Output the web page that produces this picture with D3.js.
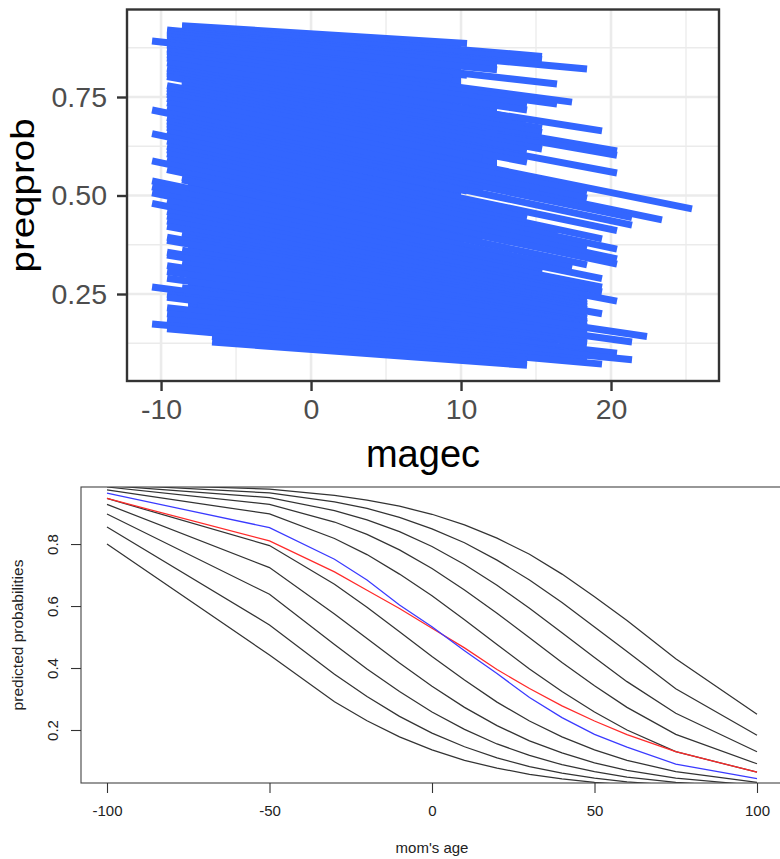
<!DOCTYPE html>
<meta charset="utf-8">
<style type="text/css">
  body { margin: 0; background: #fff; }
  svg { display: block; font-family: "Liberation Sans", Arial, sans-serif; }
  .grid line { stroke: #ebebeb; }
  .axis path { display: none; }
  .top-axis line { stroke: #333; stroke-width: 2.4px; }
  .top-axis text { fill: #4d4d4d; font-size: 28.5px; font-family: "Liberation Sans", Arial, sans-serif; }
  .bot-axis line { stroke: #333; stroke-width: 1.1px; }
  .bot-axis text { fill: #222; font-size: 15px; font-family: "Liberation Sans", Arial, sans-serif; }
</style>
<body></body>
<script src="https://d3js.org/d3.v7.min.js"></script>
<script>

// top chart: one thick stripe per fitted line
var stripeFrom = [-8.6,-8.6,-8.6,-9.6,-9.6,-9.6,-9.6,-9.6,-10.6,-9.6,-9.6,-9.6,-9.6,-9.6,-9.6,-9.6,-9.6,-9.6,-9.6,
  -8.6,-8.6,-9.6,-9.6,-9.6,-9.6,-9.6,-9.6,-9.6,-10.6,-9.6,-9.6,-9.6,-9.6,-9.6,-10.6,-9.6,-9.6,-9.6,-9.6,
  -9.6,-10.6,-9.6,-8.6,-8.6,-10.6,-10.6,-10.6,-9.6,-10.6,-9.6,-9.6,-9.6,-9.6,-8.6,-8.6,-9.6,-9.6,-8.6,
  -9.6,-9.6,-8.6,-9.6,-9.6,-9.6,-8.6,-10.6,-9.6,-9.6,-7.6,-9.6,-9.6,-9.6,-10.6,-9.6,-6.6,-6.6];
var stripeTo = [10.4,15.4,15.4,18.4,12.4,12.4,12.4,16.4,10.4,9.4,17.4,16.4,14.4,14.4,19.4,15.4,15.4,20.4,20.4,
  15.4,15.4,14.4,20.4,14.4,14.4,11.4,25.4,18.4,18.4,23.4,21.4,11.4,21.4,10.4,20.4,14.4,19.4,16.4,20.4,
  18.4,20.4,20.4,11.4,18.4,17.4,19.4,15.4,19.4,19.4,18.4,20.4,18.4,18.4,18.4,18.4,19.4,18.4,18.4,
  18.4,18.4,18.4,22.4,18.4,21.4,18.4,18.4,16.4,16.4,20.4,18.4,21.4,18.4,19.4,14.4,14.4,14.4];
var probFrom = [.931,.928,.923,.920,.915,.910,.903,.895,.892,.882,.872,.866,.857,.849,.837,.823,.816,.810,.802,
  .790,.781,.779,.772,.764,.757,.746,.735,.723,.717,.698,.689,.681,.673,.662,.657,.638,.625,.616,.606,
  .593,.588,.566,.546,.540,.537,.522,.507,.487,.480,.459,.448,.435,.422,.404,.395,.394,.386,.361,
  .356,.349,.328,.322,.307,.290,.266,.268,.249,.242,.219,.215,.200,.185,.174,.162,.142,.128];
var probTo = [.886,.853,.845,.821,.839,.831,.819,.783,.805,.799,.737,.732,.731,.717,.664,.671,.660,.613,.602,
  .630,.618,.615,.557,.595,.585,.595,.466,.508,.493,.438,.444,.516,.425,.511,.411,.444,.390,.405,.364,
  .367,.339,.326,.383,.324,.316,.289,.304,.267,.255,.252,.232,.234,.225,.218,.211,.200,.200,.188,
  .180,.175,.167,.142,.150,.128,.129,.123,.123,.119,.100,.098,.083,.083,.072,.081,.076,.069];

// where the stripes overlap solid inside the mass
var massFrom = [-8.2, 10, 10, 12.4];
var massTo = [10, 18.3, 12.4, 14.3];
var massTopFrom = [.925, .311, .778, .7145];
var massTopTo = [.884, .2195, .7627, .6992];
var massBottomFrom = [.151, .0825, .5343, .6104];
var massBottomTo = [.0775, .141, .519, .5977];

var magecMajor = [-10, 0, 10, 20];
var magecMinor = [-5, 5, 15, 25];
var probMajor = [0.25, 0.5, 0.75];
var probMinor = [0.125, 0.375, 0.625, 0.875];

// bottom chart
var ageNodes = [-100,-50,-30,-20,-10,0,10,20,30,40,50,60,75,100];
var line1 = [.800,.442,.291,.230,.178,.136,.102,.077,.057,.042,.031,.023,.014,.006];
var line2 = [.855,.539,.380,.308,.244,.190,.146,.110,.082,.061,.045,.033,.021,.009];
var line3 = [.897,.638,.476,.397,.324,.258,.202,.155,.118,.088,.066,.048,.031,.014];
var line4 = [.928,.724,.574,.495,.416,.341,.273,.214,.165,.126,.094,.070,.045,.021];
var line5 = [.947,.795,.670,.596,.517,.437,.361,.290,.229,.178,.136,.102,.066,.031];
var line6 = [.975,.897,.818,.766,.703,.633,.556,.476,.397,.324,.258,.200,.130,.064];
var line7 = [.984,.928,.871,.831,.781,.721,.652,.577,.498,.418,.343,.273,.186,.091];
var line8 = [.989,.950,.908,.878,.840,.792,.734,.667,.593,.514,.434,.356,.254,.130];
var line9 = [.993,.965,.936,.915,.886,.849,.804,.748,.684,.611,.532,.453,.333,.183];
var line10 = [.995,.977,.957,.942,.922,.896,.862,.819,.767,.703,.630,.553,.430,.251];
var redLine = [.947,.810,.710,.651,.592,.528,.465,.395,.334,.278,.229,.185,.130,.064];
var blueLine = [.964,.853,.751,.684,.603,.533,.456,.382,.305,.240,.186,.145,.090,.043];
var blackLines = [line1, line2, line3, line4, line5, line6, line7, line8, line9, line10];

var ageTicks = [-100, -50, 0, 50, 100];
var predTicks = [0.2, 0.4, 0.6, 0.8];

var svg = d3.select("body").append("svg")
    .attr("width", 780)
    .attr("height", 859);

// ---- top panel ----
var xTop = d3.scaleLinear().domain([-12.27, 27.2]).range([127, 719]);
var yTop = d3.scaleLinear().domain([0.0292, 0.9721]).range([381, 9.5]);

var grid = svg.append("g").attr("class", "grid");

grid.selectAll(".vmin").data(magecMinor).enter().append("line")
    .attr("x1", xTop).attr("x2", xTop).attr("y1", 9.5).attr("y2", 381)
    .style("stroke-width", 1.3);
grid.selectAll(".hmin").data(probMinor).enter().append("line")
    .attr("y1", yTop).attr("y2", yTop).attr("x1", 127).attr("x2", 719)
    .style("stroke-width", 1.3);
grid.selectAll(".vmaj").data(magecMajor).enter().append("line")
    .attr("x1", xTop).attr("x2", xTop).attr("y1", 9.5).attr("y2", 381)
    .style("stroke-width", 2.6);
grid.selectAll(".hmaj").data(probMajor).enter().append("line")
    .attr("y1", yTop).attr("y2", yTop).attr("x1", 127).attr("x2", 719)
    .style("stroke-width", 2.6);

var massArea = d3.area()
    .x(function (d) { return xTop(d.x); })
    .y0(function (d) { return yTop(d.low); })
    .y1(function (d) { return yTop(d.high); });

svg.append("g").selectAll("path")
    .data(massFrom)
    .enter().append("path")
    .attr("fill", "#3366FF")
    .attr("d", function (d, i) {
      return massArea([
        {x: d, low: massBottomFrom[i], high: massTopFrom[i]},
        {x: massTo[i], low: massBottomTo[i], high: massTopTo[i]}
      ]);
    });

svg.append("g").selectAll("line")
    .data(stripeFrom)
    .enter().append("line")
    .attr("x1", function (d) { return xTop(d); })
    .attr("x2", function (d, i) { return xTop(stripeTo[i]); })
    .attr("y1", function (d, i) { return yTop(probFrom[i]); })
    .attr("y2", function (d, i) { return yTop(probTo[i]); })
    .attr("stroke", "#3366FF")
    .attr("stroke-width", 7);

svg.append("rect")
    .attr("x", 127).attr("y", 9.5).attr("width", 592).attr("height", 371.5)
    .attr("fill", "none").attr("stroke", "#333").attr("stroke-width", 2.4);

svg.append("g")
    .attr("class", "axis top-axis")
    .attr("transform", "translate(0,381)")
    .call(d3.axisBottom(xTop).tickValues(magecMajor).tickFormat(String).tickSize(10).tickPadding(8));

svg.append("g")
    .attr("class", "axis top-axis")
    .attr("transform", "translate(127,0)")
    .call(d3.axisLeft(yTop).tickValues(probMajor).tickFormat(d3.format(".2f")).tickSize(10).tickPadding(10));

svg.append("text")
    .attr("x", 423).attr("y", 467)
    .attr("text-anchor", "middle")
    .style("font-size", "38px")
    .text("magec");

// the title is squeezed a little across its height in the picture
svg.append("text")
    .attr("transform", "translate(34,195.5) rotate(-90) scale(1,.85)")
    .attr("text-anchor", "middle")
    .style("font-size", "38.5px")
    .text("preqprob");

// ---- bottom panel ----
var xBot = d3.scaleLinear().domain([-108, 108]).range([81, 783]);
var yBot = d3.scaleLinear().domain([0.029, 0.984]).range([783, 487]);

svg.append("clipPath").attr("id", "botclip").append("rect")
    .attr("x", 81).attr("y", 487).attr("width", 702).attr("height", 296);

var path = d3.line()
    .x(function (d, i) { return xBot(ageNodes[i]); })
    .y(function (d) { return yBot(d); });

var curves = svg.append("g").attr("clip-path", "url(#botclip)").attr("fill", "none");

curves.selectAll(".black").data(blackLines).enter().append("path")
    .attr("d", path)
    .attr("stroke", "#333")
    .attr("stroke-width", 1.25);

curves.append("path").attr("d", path(redLine))
    .attr("stroke", "#ff2a2a").attr("stroke-width", 1.25);
curves.append("path").attr("d", path(blueLine))
    .attr("stroke", "#3a3aff").attr("stroke-width", 1.25);

svg.append("rect")
    .attr("x", 81).attr("y", 487).attr("width", 702).attr("height", 296)
    .attr("fill", "none").attr("stroke", "#444").attr("stroke-width", 1.1);

svg.append("g")
    .attr("class", "axis bot-axis")
    .attr("transform", "translate(0,783)")
    .call(d3.axisBottom(xBot).tickValues(ageTicks).tickFormat(String).tickSize(10).tickPadding(12));

var yAxisBot = svg.append("g")
    .attr("class", "axis bot-axis")
    .attr("transform", "translate(81,0)")
    .call(d3.axisLeft(yBot).tickValues(predTicks).tickFormat(d3.format(".1f")).tickSize(10));

// R draws the y labels turned on their side
yAxisBot.selectAll("text")
    .attr("x", null).attr("dy", null)
    .attr("text-anchor", "middle")
    .attr("transform", "translate(-23,0) rotate(-90)");

svg.append("text")
    .attr("x", 432).attr("y", 853)
    .attr("text-anchor", "middle")
    .style("font-size", "15px").style("fill", "#222")
    .text("mom's age");

svg.append("text")
    .attr("transform", "translate(23,635) rotate(-90)")
    .attr("text-anchor", "middle")
    .style("font-size", "15.5px").style("fill", "#222")
    .text("predicted probabilities");

</script>
